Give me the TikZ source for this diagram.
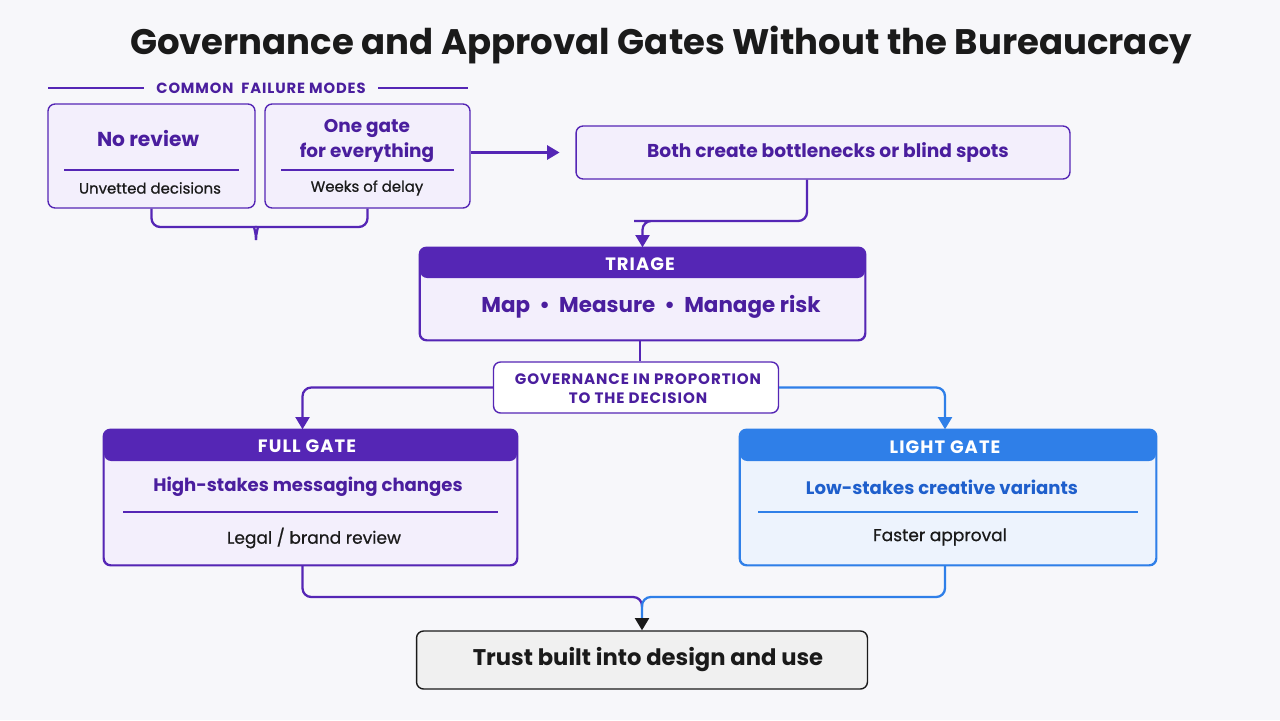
\documentclass[tikz,border=0pt]{standalone}
\usepackage{fontspec}
\setmainfont{Poppins}
\newfontfamily\mediumfont{Poppins}[FakeBold=0.7]
\usetikzlibrary{positioning, arrows.meta}

\definecolor{pagebg}{HTML}{F7F7FA}
\definecolor{deeppurple}{HTML}{4A1E9E}
\definecolor{gatepurple}{HTML}{5526B5}
\definecolor{lavender}{HTML}{F3EFFC}
\definecolor{gateblue}{HTML}{2F7FE8}
\definecolor{textblue}{HTML}{1F5FCC}
\definecolor{paleblue}{HTML}{EDF3FD}
\definecolor{inkblack}{HTML}{1A1A1A}
\definecolor{trustgray}{HTML}{F0F0F0}

\begin{document}
\begin{tikzpicture}[x=0.02cm, y=-0.02cm,
    box/.style={draw=gatepurple, fill=lavender, rounded corners=4pt, line width=0.8pt, inner sep=0pt},
    bluebox/.style={box, draw=gateblue, fill=paleblue},
    link/.style={draw=gatepurple, line width=1.3pt, rounded corners=5pt},
    bluelink/.style={link, draw=gateblue},
    tip/.style={-{Triangle[length=7pt, width=8pt]}},
    headtext/.style={text=white, font=\bfseries\fontsize{10.2}{12}\selectfont\addfontfeature{LetterSpace=6}},
    captext/.style={text=deeppurple, align=center, font=\bfseries\fontsize{8.4}{11}\selectfont\addfontfeature{LetterSpace=6}},
    maintext/.style={text=deeppurple, font=\bfseries\fontsize{10.5}{13}\selectfont, align=center},
    subtext/.style={text=inkblack, font=\mediumfont\fontsize{8.5}{10}\selectfont}]

    % background and frame
    \fill[pagebg] (0,0) rectangle (1280,720);
    \useasboundingbox (0,0) rectangle (1280,720);

    % title
    \node[text=inkblack, font=\bfseries\fontsize{20.2}{24}\selectfont] (title) at (661,45)
        {Governance and Approval Gates Without the Bureaucracy};

    % failure modes
    \node[captext, inner xsep=7pt] (modes) at (261,88) {COMMON\ \ FAILURE MODES};
    \draw[gatepurple, line width=0.8pt] (48,88) -- (modes.west);
    \draw[gatepurple, line width=0.8pt] (modes.east) -- (468,88);

    \node[box, minimum width=4.14cm, minimum height=2.08cm] (noreview) at (151.5,156) {};
    \node[maintext, font=\bfseries\fontsize{11.5}{14}\selectfont] (noreviewtxt) at (148,138) {No review};
    \draw[gatepurple, line width=0.6pt] (64,170) -- (239,170);
    \node[subtext] (noreviewsub) at (150,188) {Unvetted decisions};

    \node[box, minimum width=4.1cm, minimum height=2.08cm] (onegate) at (367.5,156) {};
    \node[maintext, font=\bfseries\fontsize{10.5}{14}\selectfont] (onegatetxt) at (367,141) {One gate\\for everything};
    \draw[gatepurple, line width=0.6pt] (281,170) -- (454,170);
    \node[subtext] (onegatesub) at (367,188) {Weeks of delay};

    % brace under both modes
    \coordinate (brace) at (256,240);
    \draw[link] (noreview.south) |- (246,227) .. controls (253,227) and (256,231) .. (brace);
    \draw[link] (onegate.south) |- (266,227) .. controls (259,227) and (256,231) .. (brace);

    % both create
    \node[box, minimum width=9.88cm, minimum height=1.06cm] (both) at (823,152.5) {};
    \node[maintext, font=\bfseries\fontsize{10.6}{12}\selectfont] (bothtxt) at (828,153)
        {Both create bottlenecks or blind spots};
    \draw[link, tip, shorten >=9pt] (onegate.east |- both.west) -- (both.west);

    % triage
    \node[box, minimum width=8.9cm, minimum height=1.84cm,
        path picture={\fill[gatepurple] (path picture bounding box.north west)
            rectangle ([yshift=-0.6cm]path picture bounding box.north east);}] (triage) at (642.5,294) {};
    \draw[gatepurple, line width=0.8pt, rounded corners=4pt] (triage.north west) rectangle (triage.south east);
    \node[headtext] (triagehead) at (640,264) {TRIAGE};
    \node[maintext, font=\bfseries\fontsize{12.2}{14}\selectfont] (triagetxt) at (651,307)
        {Map\ \ \textbullet\ \ Measure\ \ \textbullet\ \ Manage risk};
    \draw[link, tip] ([xshift=-0.32cm]both.south) |- (643,221) -| (triage.north);

    % proportion
    \node[box, fill=white, minimum width=5.7cm, minimum height=1.02cm] (gov) at (636,387.5) {};
    \node[captext, font=\bfseries\fontsize{8.6}{11}\selectfont\addfontfeature{LetterSpace=6}] (govtxt) at (638,389)
        {GOVERNANCE IN PROPORTION\\TO THE DECISION};
    \draw[link] ([xshift=-0.05cm]triage.south) -- ([xshift=-0.05cm]triage.south |- gov.north);

    % full gate
    \node[box, minimum width=8.26cm, minimum height=2.7cm,
        path picture={\fill[gatepurple] (path picture bounding box.north west)
            rectangle ([yshift=-0.62cm]path picture bounding box.north east);}] (full) at (310.5,497.5) {};
    \draw[gatepurple, line width=0.8pt, rounded corners=4pt] (full.north west) rectangle (full.south east);
    \node[headtext] (fullhead) at (307,446) {FULL GATE};
    \node[maintext, font=\bfseries\fontsize{10.3}{13}\selectfont] (fulltxt) at (308,487) {High-stakes messaging changes};
    \draw[gatepurple, line width=0.6pt] (123,512) -- (498,512);
    \node[subtext, font=\mediumfont\fontsize{9.7}{11}\selectfont] (fullsub) at (314,538) {Legal / brand review};
    \draw[link, tip] (gov.west) -| ([xshift=-0.16cm]full.north);

    % light gate
    \node[bluebox, minimum width=8.32cm, minimum height=2.7cm,
        path picture={\fill[gateblue] (path picture bounding box.north west)
            rectangle ([yshift=-0.62cm]path picture bounding box.north east);}] (light) at (948,497.5) {};
    \draw[gateblue, line width=0.8pt, rounded corners=4pt] (light.north west) rectangle (light.south east);
    \node[headtext] (lighthead) at (945,447) {LIGHT GATE};
    \node[maintext, text=textblue, font=\bfseries\fontsize{10.3}{13}\selectfont] (lighttxt) at (942,487) {Low-stakes creative variants};
    \draw[gateblue, line width=0.6pt] (758,512) -- (1138,512);
    \node[subtext, font=\mediumfont\fontsize{9.7}{11}\selectfont] (lightsub) at (940,537) {Faster approval};
    \draw[bluelink, tip] (gov.east) -| ([xshift=-0.06cm]light.north);

    % outcome
    \node[box, draw=inkblack, fill=trustgray, minimum width=9.02cm, minimum height=1.16cm] (trust) at (642,660) {};
    \node[text=inkblack, font=\bfseries\fontsize{12.9}{15}\selectfont] (trusttxt) at (648,660)
        {Trust built into design and use};
    \coordinate (merge) at (642,597);
    \draw[link] ([xshift=-0.16cm]full.south) |- (merge) -- ([yshift=-0.2cm]merge);
    \draw[bluelink, -{Triangle[length=7pt, width=8pt, color=inkblack]}] ([xshift=-0.06cm]light.south) |- (merge) -- (trust.north);

\end{tikzpicture}
\end{document}
